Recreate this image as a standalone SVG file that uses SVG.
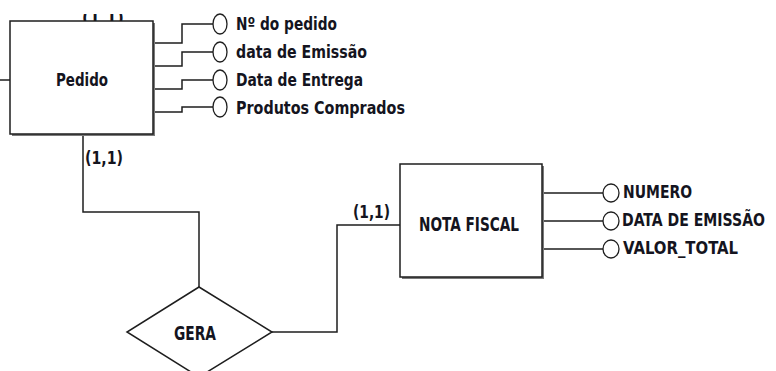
<svg xmlns="http://www.w3.org/2000/svg" width="776" height="371" viewBox="0 0 776 371">
<style>
.ln{fill:none;stroke:#1e1e1e;stroke-width:1.5}
.box{fill:#fff;stroke:#1e1e1e;stroke-width:1.5}
.sh{fill:#7a7a7a}
.at{fill:#fff;stroke:#1e1e1e;stroke-width:1.3}
text{font-family:"DejaVu Sans Condensed","DejaVu Sans",sans-serif;font-stretch:condensed;font-weight:bold;fill:#141420;font-size:17px}
.c{text-anchor:middle}
.big{font-size:20px}
</style>
<defs>
<clipPath id="topclip"><rect x="0" y="14" width="776" height="357"/></clipPath>
</defs>
<rect width="776" height="371" fill="#fff"/>
<g id="connectors">
<path class="ln" d="M0 80H10"/>
<path class="ln" d="M153 43H182V24H213"/>
<path class="ln" d="M153 66H182V52H213"/>
<path class="ln" d="M153 89H182V80H213"/>
<path class="ln" d="M153 112H182V107H213"/>
<path class="ln" d="M83 134V212H199V287"/>
<path class="ln" d="M272 332H337V225H400"/>
<path class="ln" d="M542 193H603"/>
<path class="ln" d="M542 221H603"/>
<path class="ln" d="M542 249H603"/>
<text x="85" y="164" textLength="38" lengthAdjust="spacingAndGlyphs">(1,1)</text>
<text x="353" y="218" textLength="37" lengthAdjust="spacingAndGlyphs">(1,1)</text>
<text x="82" y="24" textLength="42" lengthAdjust="spacingAndGlyphs" clip-path="url(#topclip)">(1,1)</text>
</g>
<g id="pedido">
<rect class="sh" x="12" y="23" width="143" height="113"/>
<rect class="box" x="10" y="21" width="143" height="113"/>
<text class="c" x="82" y="86" font-size="18" textLength="52" lengthAdjust="spacingAndGlyphs">Pedido</text>
</g>
<g id="attr-num-pedido"><ellipse class="at" cx="220" cy="24" rx="7" ry="10"/><text x="236" y="30" textLength="101" lengthAdjust="spacingAndGlyphs">Nº do pedido</text></g>
<g id="attr-data-emissao"><ellipse class="at" cx="220" cy="52" rx="7" ry="10"/><text x="236" y="58" textLength="131" lengthAdjust="spacingAndGlyphs">data de Emissão</text></g>
<g id="attr-data-entrega"><ellipse class="at" cx="220" cy="80" rx="7" ry="10"/><text x="236" y="86" textLength="127" lengthAdjust="spacingAndGlyphs">Data de Entrega</text></g>
<g id="attr-produtos"><ellipse class="at" cx="220" cy="107" rx="7" ry="10"/><text x="236" y="114" textLength="169" lengthAdjust="spacingAndGlyphs">Produtos Comprados</text></g>
<g id="gera">
<polygon class="box" points="199,287 272,332 199,377 127,332"/>
<text class="c big" x="195" y="340" textLength="42" lengthAdjust="spacingAndGlyphs">GERA</text>
</g>
<g id="nota-fiscal">
<rect class="sh" x="402" y="166" width="142" height="113"/>
<rect class="box" x="400" y="164" width="142" height="113"/>
<text class="c big" x="469" y="231" textLength="100" lengthAdjust="spacingAndGlyphs">NOTA FISCAL</text>
</g>
<g id="attr-numero"><ellipse class="at" cx="611" cy="193" rx="8" ry="9"/><text x="623" y="198" textLength="69" lengthAdjust="spacingAndGlyphs">NUMERO</text></g>
<g id="attr-data-emissao-nf"><ellipse class="at" cx="611" cy="221" rx="8" ry="9"/><text x="622" y="226" textLength="143" lengthAdjust="spacingAndGlyphs">DATA DE EMISSÃO</text></g>
<g id="attr-valor-total"><ellipse class="at" cx="611" cy="249" rx="8" ry="9"/><text x="623" y="254" textLength="115" lengthAdjust="spacingAndGlyphs">VALOR_TOTAL</text></g>
</svg>
